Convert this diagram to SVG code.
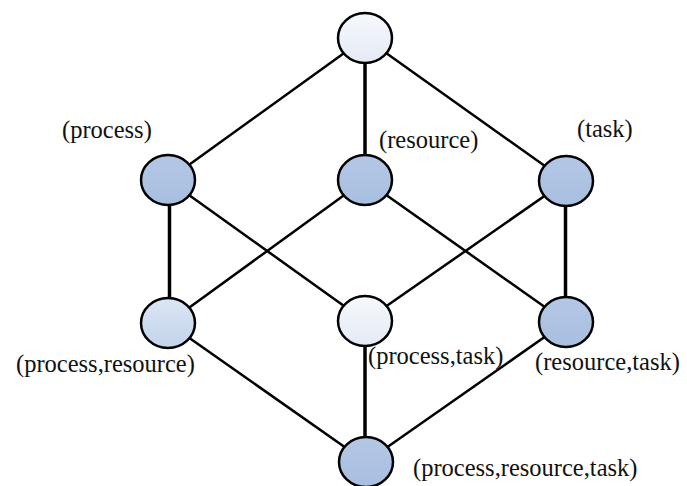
<svg xmlns="http://www.w3.org/2000/svg" width="687" height="486" viewBox="0 0 687 486">
<defs>
<linearGradient id="gLight" x1="0" y1="0" x2="0" y2="1"><stop offset="0" stop-color="#f6f8fc"/><stop offset="1" stop-color="#e4eaf5"/></linearGradient>
<linearGradient id="gMid" x1="0" y1="0" x2="0" y2="1"><stop offset="0" stop-color="#dce6f4"/><stop offset="1" stop-color="#c3d3eb"/></linearGradient>
<linearGradient id="gDark" x1="0" y1="0" x2="0" y2="1"><stop offset="0" stop-color="#b4c7e5"/><stop offset="1" stop-color="#a8bfe0"/></linearGradient>
</defs>
<style>
.n{stroke:#000;stroke-width:2.5}
.e{stroke:#000;stroke-width:2.5;fill:none}
.v{stroke:#000;stroke-width:3.5;fill:none}
.t{font-family:"Liberation Serif","Times New Roman",serif;font-size:24.5px;fill:#111}
</style>
<rect width="687" height="486" fill="#fff"/>
<g id="connectors">
<line class="e" x1="365" y1="38" x2="168" y2="180"/>
<line class="v" x1="365" y1="38" x2="365" y2="180"/>
<line class="e" x1="365" y1="38" x2="566" y2="181"/>
<line class="v" x1="169.5" y1="196" x2="169.5" y2="323"/>
<path d="M168,196 L188.7,196 A27,25 0 0 1 168,205 Z" fill="#000"/>
<line class="v" x1="565.5" y1="200" x2="565.5" y2="322"/>
<path d="M567,200 L548.5,200 A27,25 0 0 0 566,206 Z" fill="#000"/>
<line class="e" x1="168" y1="180" x2="365" y2="321"/>
<line class="e" x1="365" y1="180" x2="168" y2="323"/>
<line class="e" x1="365" y1="180" x2="566" y2="322"/>
<line class="e" x1="566" y1="181" x2="365" y2="321"/>
<line class="e" x1="168" y1="323" x2="366" y2="462"/>
<line class="v" x1="365" y1="321" x2="365" y2="462"/>
<line class="e" x1="566" y1="322" x2="366" y2="462"/>
</g>
<g id="n-top"><ellipse class="n" cx="365" cy="38" rx="27" ry="25" fill="url(#gLight)"/></g>
<g id="n-process"><ellipse class="n" cx="168" cy="180" rx="27" ry="25" fill="url(#gDark)"/><text class="t" x="62" y="138">(process)</text></g>
<g id="n-resource"><ellipse class="n" cx="365" cy="180" rx="27" ry="25" fill="url(#gDark)"/><text class="t" x="379" y="148">(resource)</text></g>
<g id="n-task"><ellipse class="n" cx="566" cy="181" rx="27" ry="25" fill="url(#gDark)"/><text class="t" x="577" y="137">(task)</text></g>
<g id="n-process-resource"><ellipse class="n" cx="168" cy="323" rx="27" ry="25" fill="url(#gMid)"/><text class="t" x="16" y="372">(process,resource)</text></g>
<g id="n-process-task"><ellipse class="n" cx="365" cy="321" rx="27" ry="25" fill="url(#gLight)"/><text class="t" x="368" y="364">(process,task)</text></g>
<g id="n-resource-task"><ellipse class="n" cx="566" cy="322" rx="27" ry="25" fill="url(#gDark)"/><text class="t" x="535" y="370">(resource,task)</text></g>
<g id="n-all"><ellipse class="n" cx="366" cy="462" rx="27" ry="25" fill="url(#gDark)"/><text class="t" x="413" y="476">(process,resource,task)</text></g>
</svg>
